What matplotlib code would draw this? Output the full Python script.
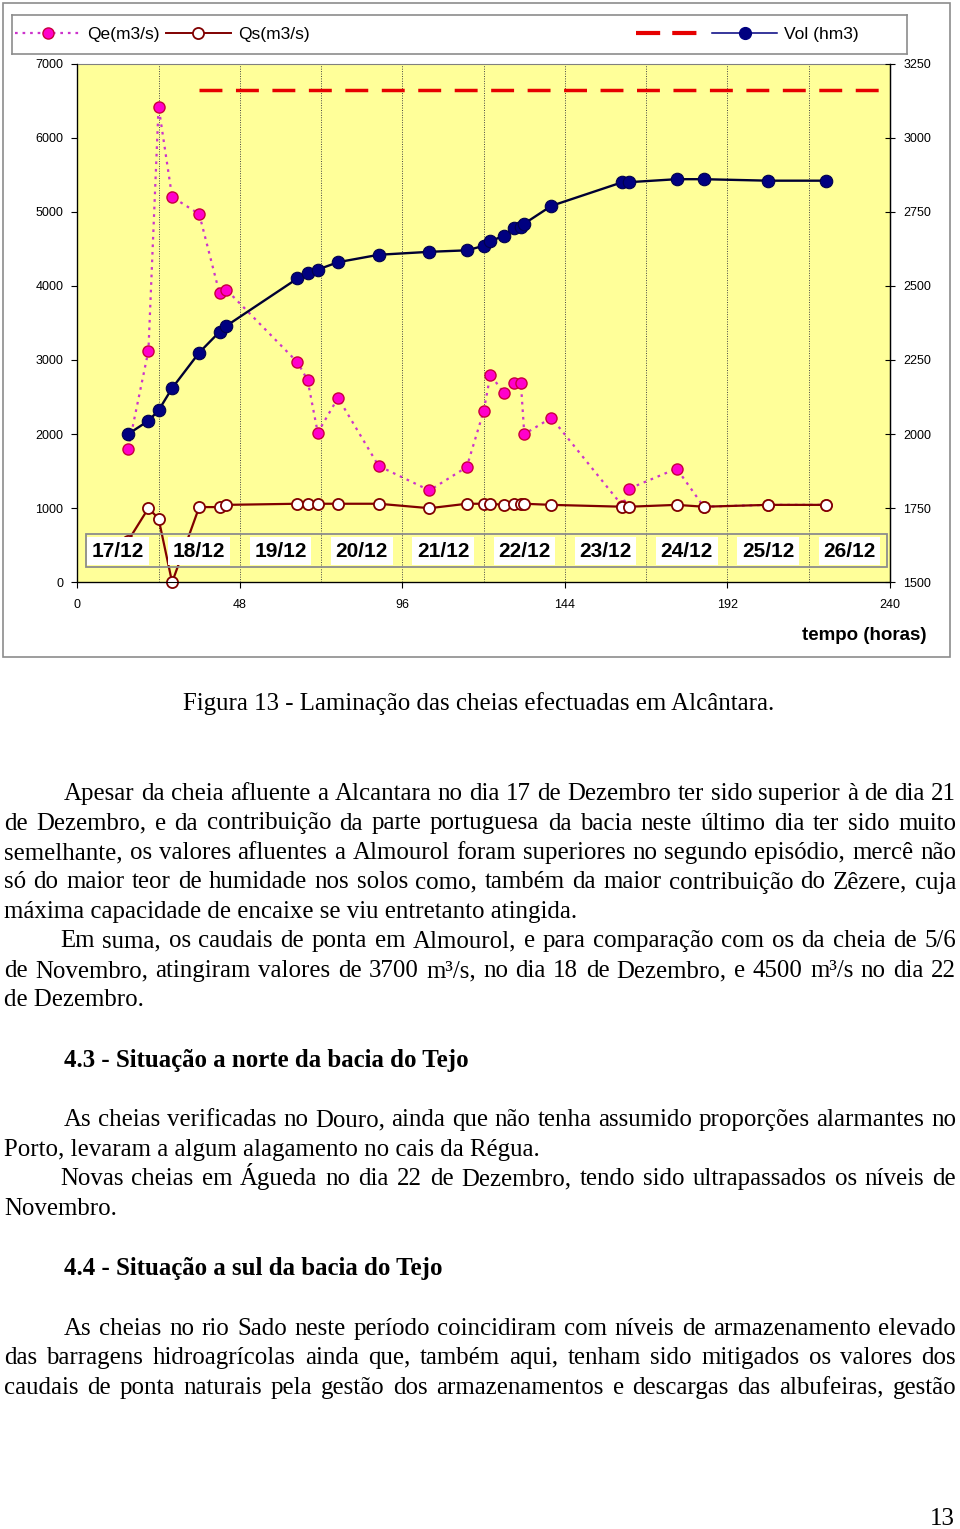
import matplotlib
matplotlib.use("Agg")
import matplotlib.pyplot as plt
from matplotlib.lines import Line2D
from matplotlib.patches import Rectangle

# --- dados (Alcântara, 17/12 a 26/12) ---
horas = [15, 21, 24, 28, 36, 42, 44, 65, 68, 71, 77, 89, 104, 115, 120, 122,
         126, 129, 131, 132, 140, 161, 163, 177, 185, 204, 221]
qe = [1800, 3125, 6420, 5200, 4970, 3900, 3950, 2970, 2730, 2020, 2490, 1570,
      1240, 1555, 2310, 2800, 2555, 2685, 2685, 2000, 2220, 1030, 1265, 1535,
      1020, 1045, 1045]
qs = [560, 1000, 860, 0, 1015, 1015, 1045, 1060, 1060, 1060, 1060, 1060, 1000,
      1060, 1060, 1060, 1045, 1060, 1060, 1060, 1045, 1020, 1020, 1045, 1020,
      1045, 1045]
vol = [2000, 2045, 2080, 2155, 2275, 2345, 2365, 2525, 2545, 2555, 2580, 2605,
       2615, 2620, 2635, 2650, 2670, 2695, 2700, 2710, 2770, 2850, 2850, 2860,
       2860, 2855, 2855]
npa_horas = [36, 240]
npa_vol = [3160, 3160]
dias = ["17/12", "18/12", "19/12", "20/12", "21/12", "22/12", "23/12",
        "24/12", "25/12", "26/12"]

x_ticks = [0, 48, 96, 144, 192, 240]
y_ticks = [0, 1000, 2000, 3000, 4000, 5000, 6000, 7000]
y2_ticks = [1500, 1750, 2000, 2250, 2500, 2750, 3000, 3250]

# --- texto da página ---
legenda_fig = "Figura 13 - Laminação das cheias efectuadas em Alcântara."
linhas = [
    # texto, x inicial (px), linha de base (px), justificar, negrito
    ("Apesar da cheia afluente a Alcantara no dia 17 de Dezembro ter sido superior à de dia 21", 64, 800, True, False),
    ("de Dezembro, e da contribuição da parte portuguesa da bacia neste último dia ter sido muito", 4, 829.5, True, False),
    ("semelhante, os valores afluentes a Almourol foram superiores no segundo episódio, mercê não", 4, 859, True, False),
    ("só do maior teor de humidade nos solos como, também da maior contribuição do Zêzere, cuja", 4, 888.5, True, False),
    ("máxima capacidade de encaixe se viu entretanto atingida.", 4, 918, False, False),
    ("Em suma, os caudais de ponta em Almourol, e para comparação com os da cheia de 5/6", 60, 947.5, True, False),
    ("de Novembro, atingiram valores de 3700 m³/s, no dia 18 de Dezembro, e 4500 m³/s no dia 22", 4, 977, True, False),
    ("de Dezembro.", 4, 1006.5, False, False),
    ("4.3 - Situação a norte da bacia do Tejo", 64, 1067, False, True),
    ("As cheias verificadas no Douro, ainda que não tenha assumido proporções alarmantes no", 64, 1126, True, False),
    ("Porto, levaram a algum alagamento no cais da Régua.", 4, 1156, False, False),
    ("Novas cheias em Águeda no dia 22 de Dezembro, tendo sido ultrapassados os níveis de", 60, 1185, True, False),
    ("Novembro.", 4, 1215, False, False),
    ("4.4 - Situação a sul da bacia do Tejo", 64, 1275, False, True),
    ("As cheias no rio Sado neste período coincidiram com níveis de armazenamento elevado", 64, 1335, True, False),
    ("das barragens hidroagrícolas ainda que, também aqui, tenham sido mitigados os valores dos", 4, 1364, True, False),
    ("caudais de ponta naturais pela gestão dos armazenamentos e descargas das albufeiras, gestão", 4, 1394, True, False),
]

W, H = 960, 1529
X_DIR = 956
SERIF = "Liberation Serif"
SANS = "Liberation Sans"
FS = 17.9


def fx(px):
    return px / W


def fy(py):
    return 1 - py / H


plt.rcParams["font.family"] = SANS
fig = plt.figure(figsize=(W / 100, H / 100), dpi=100)
fig.patch.set_facecolor("white")

# moldura do gráfico
fig.add_artist(Rectangle((fx(3), fy(657)), (950 - 3) / W, (657 - 3) / H,
                         transform=fig.transFigure, fill=False,
                         ec="#8c8c8c", lw=1.2))

# eixos
ax = fig.add_axes([fx(77.3), fy(582.3), (890 - 77.3) / W, (582.3 - 63.6) / H])
ax.set_facecolor("#FFFF99")
ax.set_xlim(0, 240)
ax.set_ylim(0, 7000)
ax.set_xticks(x_ticks)
ax.set_xticks(range(24, 240, 48), minor=True)
ax.set_yticks(y_ticks)
ax.grid(True, axis="x", which="both", color="#444444", ls=(0, (1, 1.5)), lw=0.7)
ax.tick_params(axis="x", which="minor", length=0)
ax.tick_params(axis="x", which="major", direction="out", length=4, pad=8,
               labelsize=9, width=0.8)
ax.tick_params(axis="y", direction="out", length=4, pad=6, labelsize=9,
               width=0.8)
for s in ["left", "bottom", "right"]:
    ax.spines[s].set_color("black")
    ax.spines[s].set_linewidth(0.9)
ax.spines["top"].set_color("#808080")
ax.spines["top"].set_linewidth(0.8)

ax.plot(horas, qe, color="#CC33CC", ls=(0, (1.2, 2.2)), lw=1.6, marker="o",
        ms=8, mfc="#FF00CC", mec="#C8003C", mew=1.0, clip_on=False, zorder=3)
ax.plot(horas, qs, color="#800000", lw=1.6, marker="o", ms=8, mfc="white",
        mec="#800000", mew=1.3, clip_on=False, zorder=4)

ax.set_xlabel("tempo (horas)", fontsize=13.5, fontweight="bold", ha="right",
              va="center")
ax.xaxis.set_label_coords((927 - 77.3) / (890 - 77.3),
                          -(635 - 582.3) / (582.3 - 63.6))

ax2 = ax.twinx()
ax2.set_ylim(1500, 3250)
ax2.set_yticks(y2_ticks)
ax2.tick_params(axis="y", direction="inout", length=7, pad=6, labelsize=9,
                width=0.8)
ax2.spines["right"].set_linewidth(0.9)
ax2.spines["top"].set_visible(False)
ax2.plot(npa_horas, npa_vol, color="#E60000", lw=2.5, ls=(0, (6.6, 3.9)),
         solid_capstyle="butt", zorder=2)
ax2.plot(horas, vol, color="#000033", lw=1.7, marker="o", ms=9,
         mfc="#000080", mec="#00004d", mew=0.8, clip_on=False, zorder=3)

# caixa das datas
ax2.add_patch(Rectangle((0.0107, 0.030), 0.986, 0.0625,
                        transform=ax2.transAxes, fill=False, ec="#8c8c8c",
                        lw=1.3, zorder=9))
for i, d in enumerate(dias):
    ax2.text(12 + 24 * i, 0.060, d, transform=ax2.get_xaxis_transform(),
             ha="center", va="center", fontsize=15, fontweight="bold",
             bbox=dict(boxstyle="square,pad=0.22", fc="white", ec="none"),
             zorder=10)

# legenda
lax = fig.add_axes([fx(12), fy(54), (906.7 - 12) / W, (54 - 15) / H])
lax.set_xticks([])
lax.set_yticks([])
for s in lax.spines.values():
    s.set_color("#8c8c8c")
    s.set_linewidth(1.2)

h_qe = Line2D([], [], color="#CC33CC", ls=(0, (1.2, 2.2)), lw=1.6, marker="o",
              ms=8, mfc="#FF00CC", mec="#C8003C")
h_qs = Line2D([], [], color="#800000", lw=1.4, marker="o", ms=8,
              mfc="white", mec="#800000", mew=1.3)
h_npa = Line2D([], [], color="#E60000", lw=3, ls=(0, (5.8, 2.9)))
h_vol = Line2D([], [], color="#000080", lw=1.1, marker="o", ms=8.5,
               mfc="#000080", mec="#000080")
leg1 = lax.legend([h_qe, h_qs], ["Qe(m3/s)", "Qs(m3/s)"], ncol=2,
                  loc="center left", bbox_to_anchor=(3 / 894.7, 0.5),
                  frameon=False, fontsize=12.5, handlelength=3.75,
                  handletextpad=0.4, columnspacing=0.35, borderpad=0,
                  borderaxespad=0)
lax.add_artist(leg1)
lax.legend([h_npa, h_vol], ["", "Vol (hm3)"], ncol=2, loc="center left",
           bbox_to_anchor=(624 / 894.7, 0.5), frameon=False, fontsize=12.5,
           handlelength=3.75, handletextpad=0.4, columnspacing=0.25,
           borderpad=0, borderaxespad=0)

# texto por baixo do gráfico
fig.text(fx(479), fy(710), legenda_fig, ha="center", va="baseline",
         fontsize=FS, family=SERIF)

renderer = fig.canvas.get_renderer()
for texto, x0, yb, just, negrito in linhas:
    peso = "bold" if negrito else "normal"
    if not just:
        fig.text(fx(x0), fy(yb), texto, va="baseline", fontsize=FS,
                 family=SERIF, fontweight=peso)
        continue
    palavras = texto.split(" ")
    arts = [fig.text(0, fy(yb), p, va="baseline", fontsize=FS, family=SERIF,
                     fontweight=peso) for p in palavras]
    larg = [a.get_window_extent(renderer).width for a in arts]
    espaco = (X_DIR - x0 - sum(larg)) / (len(palavras) - 1)
    x = x0
    for a, w in zip(arts, larg):
        a.set_x(fx(x))
        x += w + espaco

fig.text(fx(955), fy(1525), "13", ha="right", va="baseline", fontsize=FS,
         family=SERIF)

fig.savefig("out.png", dpi=100)
